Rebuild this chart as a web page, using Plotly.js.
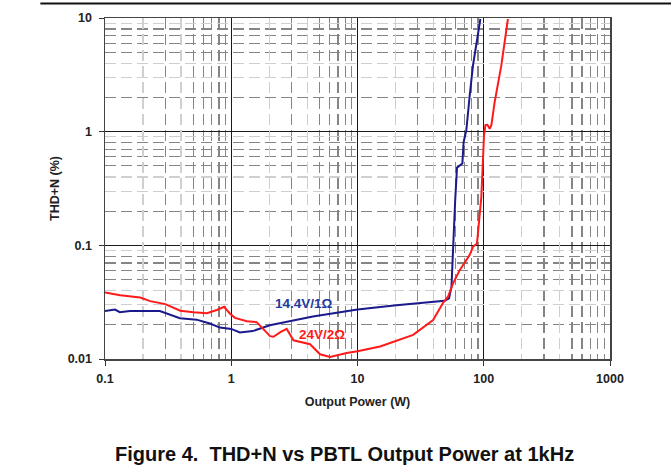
<!DOCTYPE html>
<html>
<head>
<meta charset="utf-8">
<script src="https://cdn.plot.ly/plotly-3.0.1.min.js"></script>
<style>html,body{margin:0;padding:0;background:#fff;}#chart{width:671px;height:472px;}</style>
</head>
<body>
<div id="chart"></div>
<script>
// ---- data ----
const blueName = '14.4V/1\u03A9';
const bluePower = [0.1, 0.12, 0.131, 0.158, 0.272, 0.327, 0.392, 0.531, 0.677, 0.813, 1.0, 1.17, 1.48, 2.02, 2.91, 4.43, 10, 20.3, 49.1, 53.1, 55.5, 57.1, 59.4, 61.4, 67.7, 69.3, 72.8, 77.4, 82.2, 94.0];
const blueThd   = [0.0264, 0.0272, 0.0258, 0.0265, 0.0264, 0.0245, 0.0228, 0.0222, 0.0205, 0.0189, 0.0184, 0.0171, 0.0176, 0.0198, 0.0215, 0.0237, 0.0272, 0.0297, 0.0325, 0.0341, 0.0432, 0.097, 0.249, 0.483, 0.524, 0.811, 1.03, 2.08, 3.83, 9.8];

const redName = '24V/2\u03A9';
const redPower = [0.1, 0.132, 0.19, 0.228, 0.30, 0.395, 0.502, 0.641, 0.769, 0.877, 0.978, 1.07, 1.33, 1.59, 2.03, 2.16, 2.45, 2.75, 3.11, 4.21, 5.05, 6.06, 8.2, 10, 15.1, 27.6, 39.7, 47.5, 52.1, 57.1, 64.5, 77.3, 82.2, 88.4, 95.7, 98.6, 100.5, 103.1, 106.9, 111.5, 114.9, 122, 137.8, 155.4];
const redThd   = [0.0385, 0.0364, 0.0347, 0.0323, 0.0304, 0.0266, 0.0258, 0.0253, 0.0270, 0.0288, 0.0250, 0.0230, 0.0215, 0.0211, 0.0159, 0.0157, 0.0172, 0.0184, 0.0146, 0.0135, 0.0110, 0.0104, 0.0113, 0.0117, 0.0129, 0.0163, 0.0220, 0.0311, 0.0353, 0.0462, 0.0605, 0.082, 0.097, 0.104, 0.267, 0.759, 0.93, 1.14, 1.15, 1.06, 1.14, 1.82, 3.83, 9.8];

const xTickVals = [0.1, 1, 10, 100, 1000];
const xTickText = ['0.1', '1', '10', '100', '1000'];
const yTickVals = [0.01, 0.1, 1, 10];
const yTickText = ['0.01', '0.1', '1', '10'];

// grid multipliers (dark dashed / light dashed minor lines)
const xDarkMult = [3, 5, 6, 7, 8, 9];
const xLightMult = [2, 4];
const yDarkMult = [2, 5, 6, 7, 8];
const yLightMult = [3, 4, 9];

function minorVals(decades, mults) {
  const out = [];
  decades.forEach(d => mults.forEach(m => out.push(d * m)));
  return out;
}
const xDecades = [0.1, 1, 10, 100];
const yDecades = [0.01, 0.1, 1];

const FONT = 'Liberation Sans, Arial, sans-serif';
const tickFont = {family: FONT, size: 12.5, color: '#222', weight: 'bold'};

const traces = [
  {x: bluePower, y: blueThd, type: 'scatter', mode: 'lines', name: blueName,
   line: {color: '#1a1a8c', width: 2}, showlegend: false, hoverinfo: 'skip'},
  {x: redPower, y: redThd, type: 'scatter', mode: 'lines', name: redName,
   line: {color: '#ff1a1a', width: 2}, showlegend: false, hoverinfo: 'skip'},
  {x: [], y: [], type: 'scatter', mode: 'lines', xaxis: 'x2', yaxis: 'y2', showlegend: false, hoverinfo: 'skip'}
];

const layout = {
  width: 671, height: 472,
  margin: {l: 105, r: 61, t: 18, b: 113},
  paper_bgcolor: '#fff', plot_bgcolor: '#fff',
  showlegend: false,
  xaxis: {
    type: 'log', range: [-1, 3],
    tickmode: 'array', tickvals: xTickVals, ticktext: xTickText,
    tickfont: tickFont, ticks: 'outside', ticklen: 5, tickcolor: '#333', tickwidth: 1,
    showgrid: true, gridcolor: '#1a1a1a', gridwidth: 1.2,
    minor: {tickmode: 'array', tickvals: minorVals(xDecades, xDarkMult), showgrid: true,
            gridcolor: '#858585', gridwidth: 1.2, griddash: '11px,5px', ticks: ''},
    showline: true, linecolor: '#444', linewidth: 1.5, mirror: true,
    zeroline: false, ticklabelstandoff: 2,
    title: {text: 'Output Power (W)', font: {family: FONT, size: 12.5, color: '#222', weight: 'bold'}, standoff: 12}
  },
  yaxis: {
    type: 'log', range: [-2, 1],
    tickmode: 'array', tickvals: yTickVals, ticktext: yTickText,
    tickfont: tickFont, ticks: 'outside', ticklen: 5, tickcolor: '#333', tickwidth: 1,
    showgrid: true, gridcolor: '#1a1a1a', gridwidth: 1.2,
    minor: {tickmode: 'array', tickvals: minorVals(yDecades, yDarkMult), showgrid: true,
            gridcolor: '#858585', gridwidth: 1.2, griddash: '11px,5px', ticks: ''},
    showline: true, linecolor: '#444', linewidth: 1.5, mirror: true,
    zeroline: false, ticklabelstandoff: 4,
    title: {text: 'THD+N (%)', font: {family: FONT, size: 12.5, color: '#222', weight: 'bold'}, standoff: 5}
  },
  xaxis2: {
    type: 'log', range: [-1, 3], overlaying: 'x', anchor: 'y2',
    tickmode: 'array', tickvals: minorVals(xDecades, xLightMult),
    showticklabels: false, ticks: '', showline: false, zeroline: false,
    showgrid: true, gridcolor: '#cfcfcf', gridwidth: 1.2, griddash: '11px,5px'
  },
  yaxis2: {
    type: 'log', range: [-2, 1], overlaying: 'y', anchor: 'x2',
    tickmode: 'array', tickvals: minorVals(yDecades, yLightMult),
    showticklabels: false, ticks: '', showline: false, zeroline: false,
    showgrid: true, gridcolor: '#cfcfcf', gridwidth: 1.2, griddash: '11px,5px'
  },
  shapes: [
    {type: 'line', xref: 'paper', yref: 'paper', x0: -0.128, x1: 1.13, y0: 1.0425, y1: 1.0425,
     line: {color: '#111', width: 2}}
  ],
  annotations: [
    {x: Math.log10(3.77), y: Math.log10(0.0310), xref: 'x', yref: 'y', text: blueName, showarrow: false,
     font: {family: FONT, size: 13.5, color: '#1f3a9e', weight: 'bold'}},
    {x: Math.log10(5.25), y: Math.log10(0.0163), xref: 'x', yref: 'y', text: redName, showarrow: false,
     font: {family: FONT, size: 13.5, color: '#ff1a1a', weight: 'bold'}},
    {x: 0.475, y: -0.279, xref: 'paper', yref: 'paper', xanchor: 'center', yanchor: 'middle',
     text: 'Figure 4.\u00A0\u00A0THD+N vs PBTL Output Power at 1kHz', showarrow: false,
     font: {family: FONT, size: 20, color: '#111', weight: 'bold'}}
  ]
};

Plotly.newPlot('chart', traces, layout, {staticPlot: true, displayModeBar: false});
</script>
</body>
</html>
